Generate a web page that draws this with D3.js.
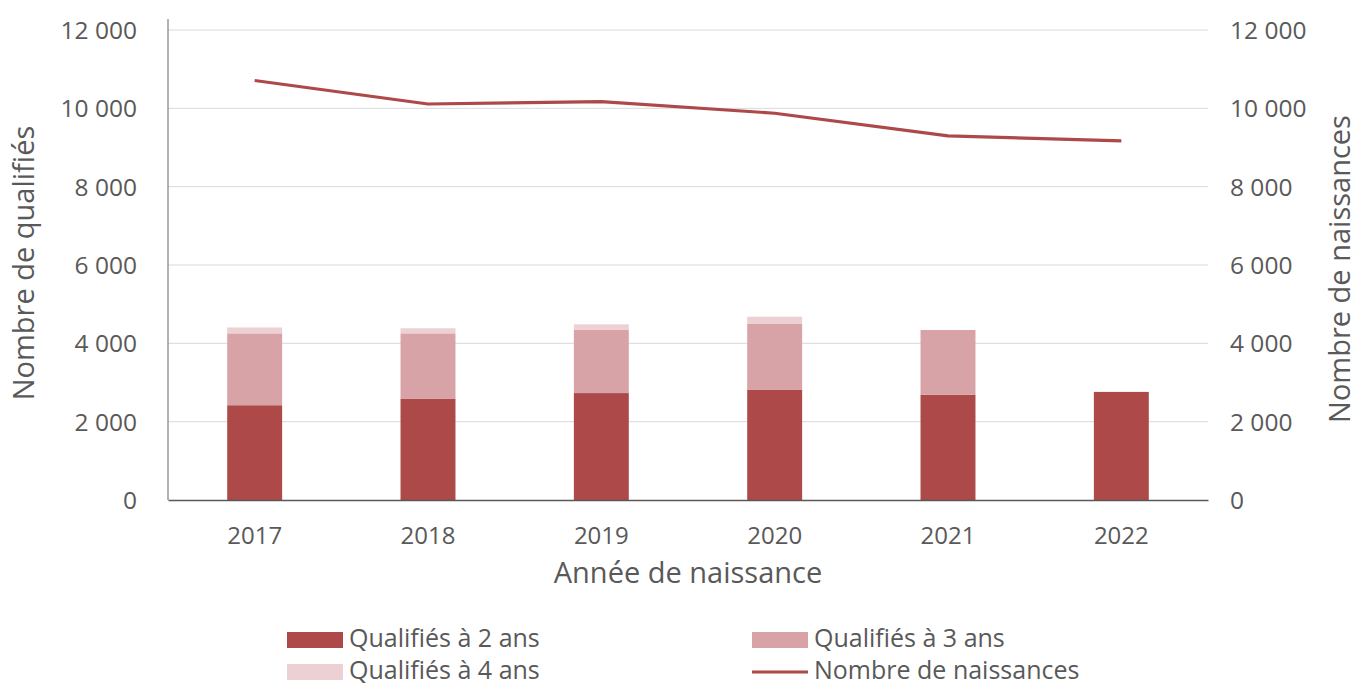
<!DOCTYPE html>
<html>
<head>
<meta charset="UTF-8">
<title>Qualifiés et naissances</title>
<script src="https://d3js.org/d3.v7.min.js"></script>
<style>
  body { margin: 0; background: #fff; }
  text { font-family: "Open Sans", sans-serif; fill: #595959; }
</style>
</head>
<body>
<script>
// data
var years = ["2017", "2018", "2019", "2020", "2021", "2022"];
var qualif2 = [2420, 2590, 2730, 2820, 2690, 2760];
var qualif3 = [1835, 1665, 1620, 1685, 1650, 0];
var qualif4 = [150, 130, 135, 175, 0, 0];
var naissances = [10710, 10110, 10170, 9875, 9295, 9170];
var yTicks = [0, 2000, 4000, 6000, 8000, 10000, 12000];

var seriesNames = ["Qualifiés à 2 ans", "Qualifiés à 3 ans", "Qualifiés à 4 ans"];
var colors = ["#ad4949", "#d8a3a7", "#edd0d3"];
var lineColor = "#ad4949";

var W = 1360, H = 685;
var plotL = 168, plotR = 1208, plotT = 30, plotB = 500;

var svg = d3.select("body").append("svg")
  .attr("width", W).attr("height", H);

var x = d3.scaleBand().domain(years).range([plotL, plotR]).paddingInner(0.683).paddingOuter(0.3415);
var yL = d3.scaleLinear().domain([0, 12000]).range([plotB, plotT]);
var yR = d3.scaleLinear().domain([0, 12000]).range([plotB, plotT]);

var fmt = function(d) { return d3.format(",")(d).replace(",", " "); };

// gridlines
svg.append("g").selectAll("line").data(yTicks.slice(1)).join("line")
  .attr("x1", plotL).attr("x2", plotR)
  .attr("y1", d => yL(d)).attr("y2", d => yL(d))
  .attr("stroke", "#d9d9d9").attr("stroke-width", 1);

// stacked bars
var rows = years.map((y, i) => ({ year: y, q2: qualif2[i], q3: qualif3[i], q4: qualif4[i] }));
var stack = d3.stack().keys(["q2", "q3", "q4"])(rows);

svg.append("g").selectAll("g").data(stack).join("g")
  .attr("fill", (d, i) => colors[i])
  .selectAll("rect").data(d => d.filter(s => s[1] > s[0])).join("rect")
  .attr("x", d => x(d.data.year))
  .attr("width", x.bandwidth())
  .attr("y", d => yL(d[1]))
  .attr("height", d => yL(d[0]) - yL(d[1]));

// line (right axis)
var line = d3.line()
  .x((d, i) => x(years[i]) + x.bandwidth() / 2)
  .y(d => yR(d));
svg.append("path")
  .attr("d", line(naissances))
  .attr("fill", "none")
  .attr("stroke", lineColor)
  .attr("stroke-width", 3.2)
  .attr("stroke-linejoin", "round");

// axes
var axL = svg.append("g").attr("transform", "translate(" + plotL + ",0)")
  .call(d3.axisLeft(yL).tickValues(yTicks).tickFormat(fmt).tickSize(0).tickPadding(31));
axL.select(".domain").remove();
axL.selectAll("text").style("font-size", "24.5px").attr("dy", "0.35em");
svg.append("line").attr("x1", plotL).attr("x2", plotL).attr("y1", 19).attr("y2", plotB)
  .attr("stroke", "#7f7f7f").attr("stroke-width", 1.2);

var axR = svg.append("g").attr("transform", "translate(" + plotR + ",0)")
  .call(d3.axisRight(yR).tickValues(yTicks).tickFormat(fmt).tickSize(0).tickPadding(22));
axR.select(".domain").remove();
axR.selectAll("text").style("font-size", "24.5px").attr("dy", "0.35em");

var axB = svg.append("g").attr("transform", "translate(0," + plotB + ")")
  .call(d3.axisBottom(x).tickSize(0).tickPadding(0));
axB.select(".domain").attr("stroke", "#595959").attr("stroke-width", 1.5);
axB.selectAll("text").style("font-size", "24px").attr("dy", null).attr("y", 44);

// axis titles
svg.append("text")
  .attr("transform", "translate(34,263) rotate(-90)")
  .attr("text-anchor", "middle")
  .style("font-size", "29px")
  .text("Nombre de qualifiés");
svg.append("text")
  .attr("transform", "translate(1350,269) rotate(-90)")
  .attr("text-anchor", "middle")
  .style("font-size", "29px")
  .text("Nombre de naissances");
svg.append("text")
  .attr("x", 688).attr("y", 583)
  .attr("text-anchor", "middle")
  .style("font-size", "29px")
  .text("Année de naissance");

// legend
var legend = [
  { name: seriesNames[0], color: colors[0], type: "rect", x: 287, y: 640 },
  { name: seriesNames[1], color: colors[1], type: "rect", x: 752, y: 640 },
  { name: seriesNames[2], color: colors[2], type: "rect", x: 287, y: 672 },
  { name: "Nombre de naissances", color: lineColor, type: "line", x: 752, y: 672 }
];
var lg = svg.append("g").selectAll("g").data(legend).join("g")
  .attr("transform", d => "translate(" + d.x + "," + d.y + ")");
lg.filter(d => d.type === "rect").append("rect")
  .attr("x", 0).attr("y", -8).attr("width", 56).attr("height", 16)
  .attr("fill", d => d.color);
lg.filter(d => d.type === "line").append("line")
  .attr("x1", 0).attr("x2", 56).attr("y1", 0).attr("y2", 0)
  .attr("stroke", d => d.color).attr("stroke-width", 3.2);
lg.append("text")
  .attr("x", 62).attr("y", 7)
  .style("font-size", "25px")
  .text(d => d.name);
</script>
</body>
</html>
